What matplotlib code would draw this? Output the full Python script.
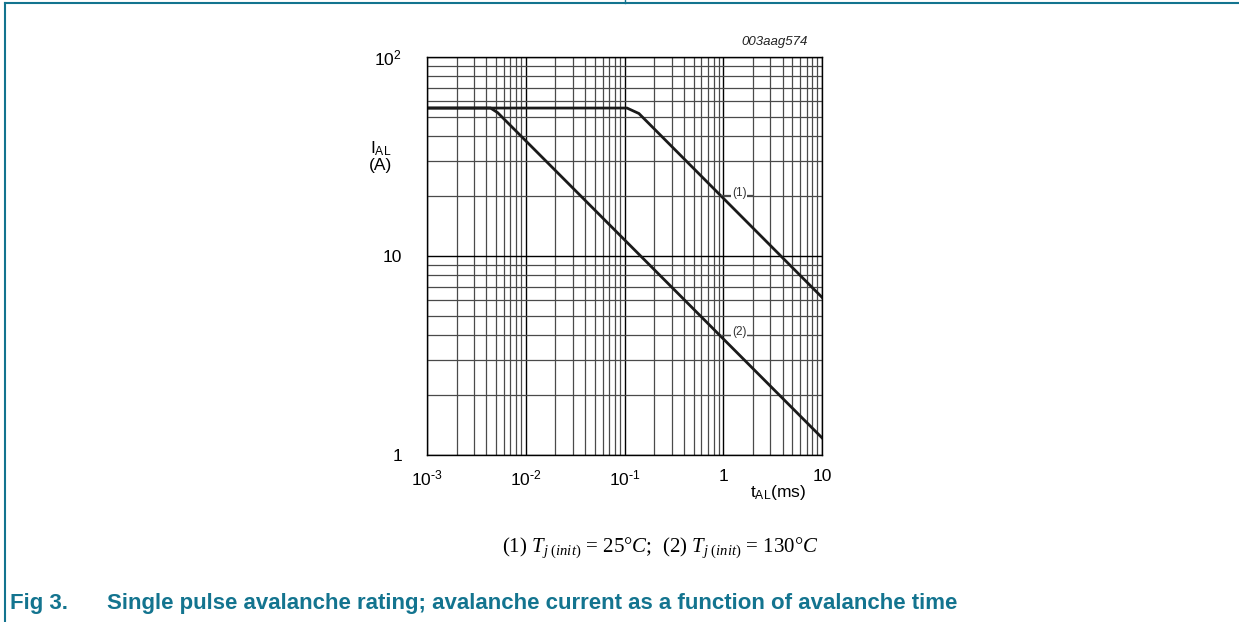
import matplotlib

matplotlib.use("Agg")
import matplotlib.pyplot as plt
from matplotlib.lines import Line2D
from matplotlib.ticker import LogLocator, NullFormatter, FixedLocator

plt.rcParams["font.family"] = ["Liberation Sans", "DejaVu Sans"]
plt.rcParams["mathtext.fontset"] = "custom"
plt.rcParams["mathtext.rm"] = "Liberation Serif"
plt.rcParams["mathtext.it"] = "Liberation Serif:italic"

# avalanche time (ms) and current (A)
t_25 = [0.001, 0.106, 0.14, 10.0]
i_25 = [55.4, 55.4, 52.0, 6.2]
t_130 = [0.001, 0.0044, 0.0052, 10.0]
i_130 = [55.4, 55.4, 52.5, 1.22]

x_ticks = [1e-3, 1e-2, 1e-1, 1, 10]
x_labels = [r"$\mathregular{10^{\text{-}3}}$", r"$\mathregular{10^{\text{-}2}}$",
            r"$\mathregular{10^{\text{-}1}}$", "1", "10"]
y_ticks = [1, 10, 100]
y_labels = ["1", "10", r"$\mathregular{10^{2}}$"]

W, H = 1239, 622
fig = plt.figure(figsize=(W / 100, H / 100), dpi=100)
ax = fig.add_axes([427 / W, 1 - 455 / H, (822 - 427) / W, (455 - 57) / H])
ax.set_xscale("log")
ax.set_yscale("log")
ax.set_xlim(1e-3, 10)
ax.set_ylim(1, 100)

ax.xaxis.set_major_locator(FixedLocator(x_ticks))
ax.yaxis.set_major_locator(FixedLocator(y_ticks))
ax.xaxis.set_minor_locator(LogLocator(base=10, subs=range(2, 10)))
ax.yaxis.set_minor_locator(LogLocator(base=10, subs=range(2, 10)))
ax.xaxis.set_minor_formatter(NullFormatter())
ax.yaxis.set_minor_formatter(NullFormatter())
ax.set_xticklabels(x_labels)
ax.set_yticklabels(y_labels)
ax.tick_params(which="both", length=0, labelsize=12.5)
ax.tick_params(axis="x", pad=10)
ax.tick_params(axis="y", pad=18)

ax.grid(which="major", color="black", lw=1.0)
ax.grid(which="minor", color="#4a4a4a", lw=0.9)
for s in ax.spines.values():
    s.set_color("black")
    s.set_linewidth(1.0)

ax.plot(t_25, i_25, color="#1a1a1a", lw=2.0, solid_joinstyle="miter")
ax.plot(t_130, i_130, color="#1a1a1a", lw=2.0, solid_joinstyle="miter")

# curve labels with short leader lines
for y, lab in [(20.2, "(1)"), (4.01, "(2)")]:
    ax.plot([0.94, 1.2], [y, y], color="#4a4a4a", lw=0.9)
    ax.plot([1.75, 1.95], [y, y], color="#4a4a4a", lw=0.9)
    ax.text(1.45, y * 1.03, lab, fontsize=8.5, ha="center", va="center",
            color="#333333",
            bbox=dict(facecolor="white", edgecolor="none", pad=0.5))

fig.text(808 / W, 1 - 42 / H, "003aag574", ha="right", va="center",
         fontsize=9.5, style="italic", color="#222222")
fig.text(381 / W, 1 - 156 / H, "$\\mathregular{I_{AL}}$\n(A)", ha="center",
         va="center", fontsize=12.5, linespacing=1.0)
fig.text(806 / W, 1 - 492 / H, "$\\mathregular{t_{AL}}$(ms)", ha="right",
         va="center", fontsize=12.5)

fig.text(660 / W, 1 - 548 / H,
         r"(1) $T_{j\ (init)}$ = 25°$C$;  (2) $T_{j\ (init)}$ = 130°$C$",
         ha="center", va="center", fontsize=15,
         family=["Liberation Serif", "DejaVu Serif"])

teal = "#13748f"
fig.text(10 / W, 1 - 603 / H, "Fig 3.", ha="left", va="center",
         fontsize=16, fontweight="bold", color=teal)
fig.text(107 / W, 1 - 603 / H,
         "Single pulse avalanche rating; avalanche current as a function of avalanche time",
         ha="left", va="center", fontsize=16, fontweight="bold", color=teal)

# page frame
fig.add_artist(Line2D([5 / W, 5 / W], [0, 1 - 3 / H], color=teal, lw=1.5))
fig.add_artist(Line2D([5 / W, 1], [1 - 3 / H, 1 - 3 / H], color=teal, lw=1.5))
fig.add_artist(Line2D([625 / W, 625 / W], [1 - 3 / H, 1], color=teal, lw=1.0))

fig.savefig("out.png", dpi=100)
